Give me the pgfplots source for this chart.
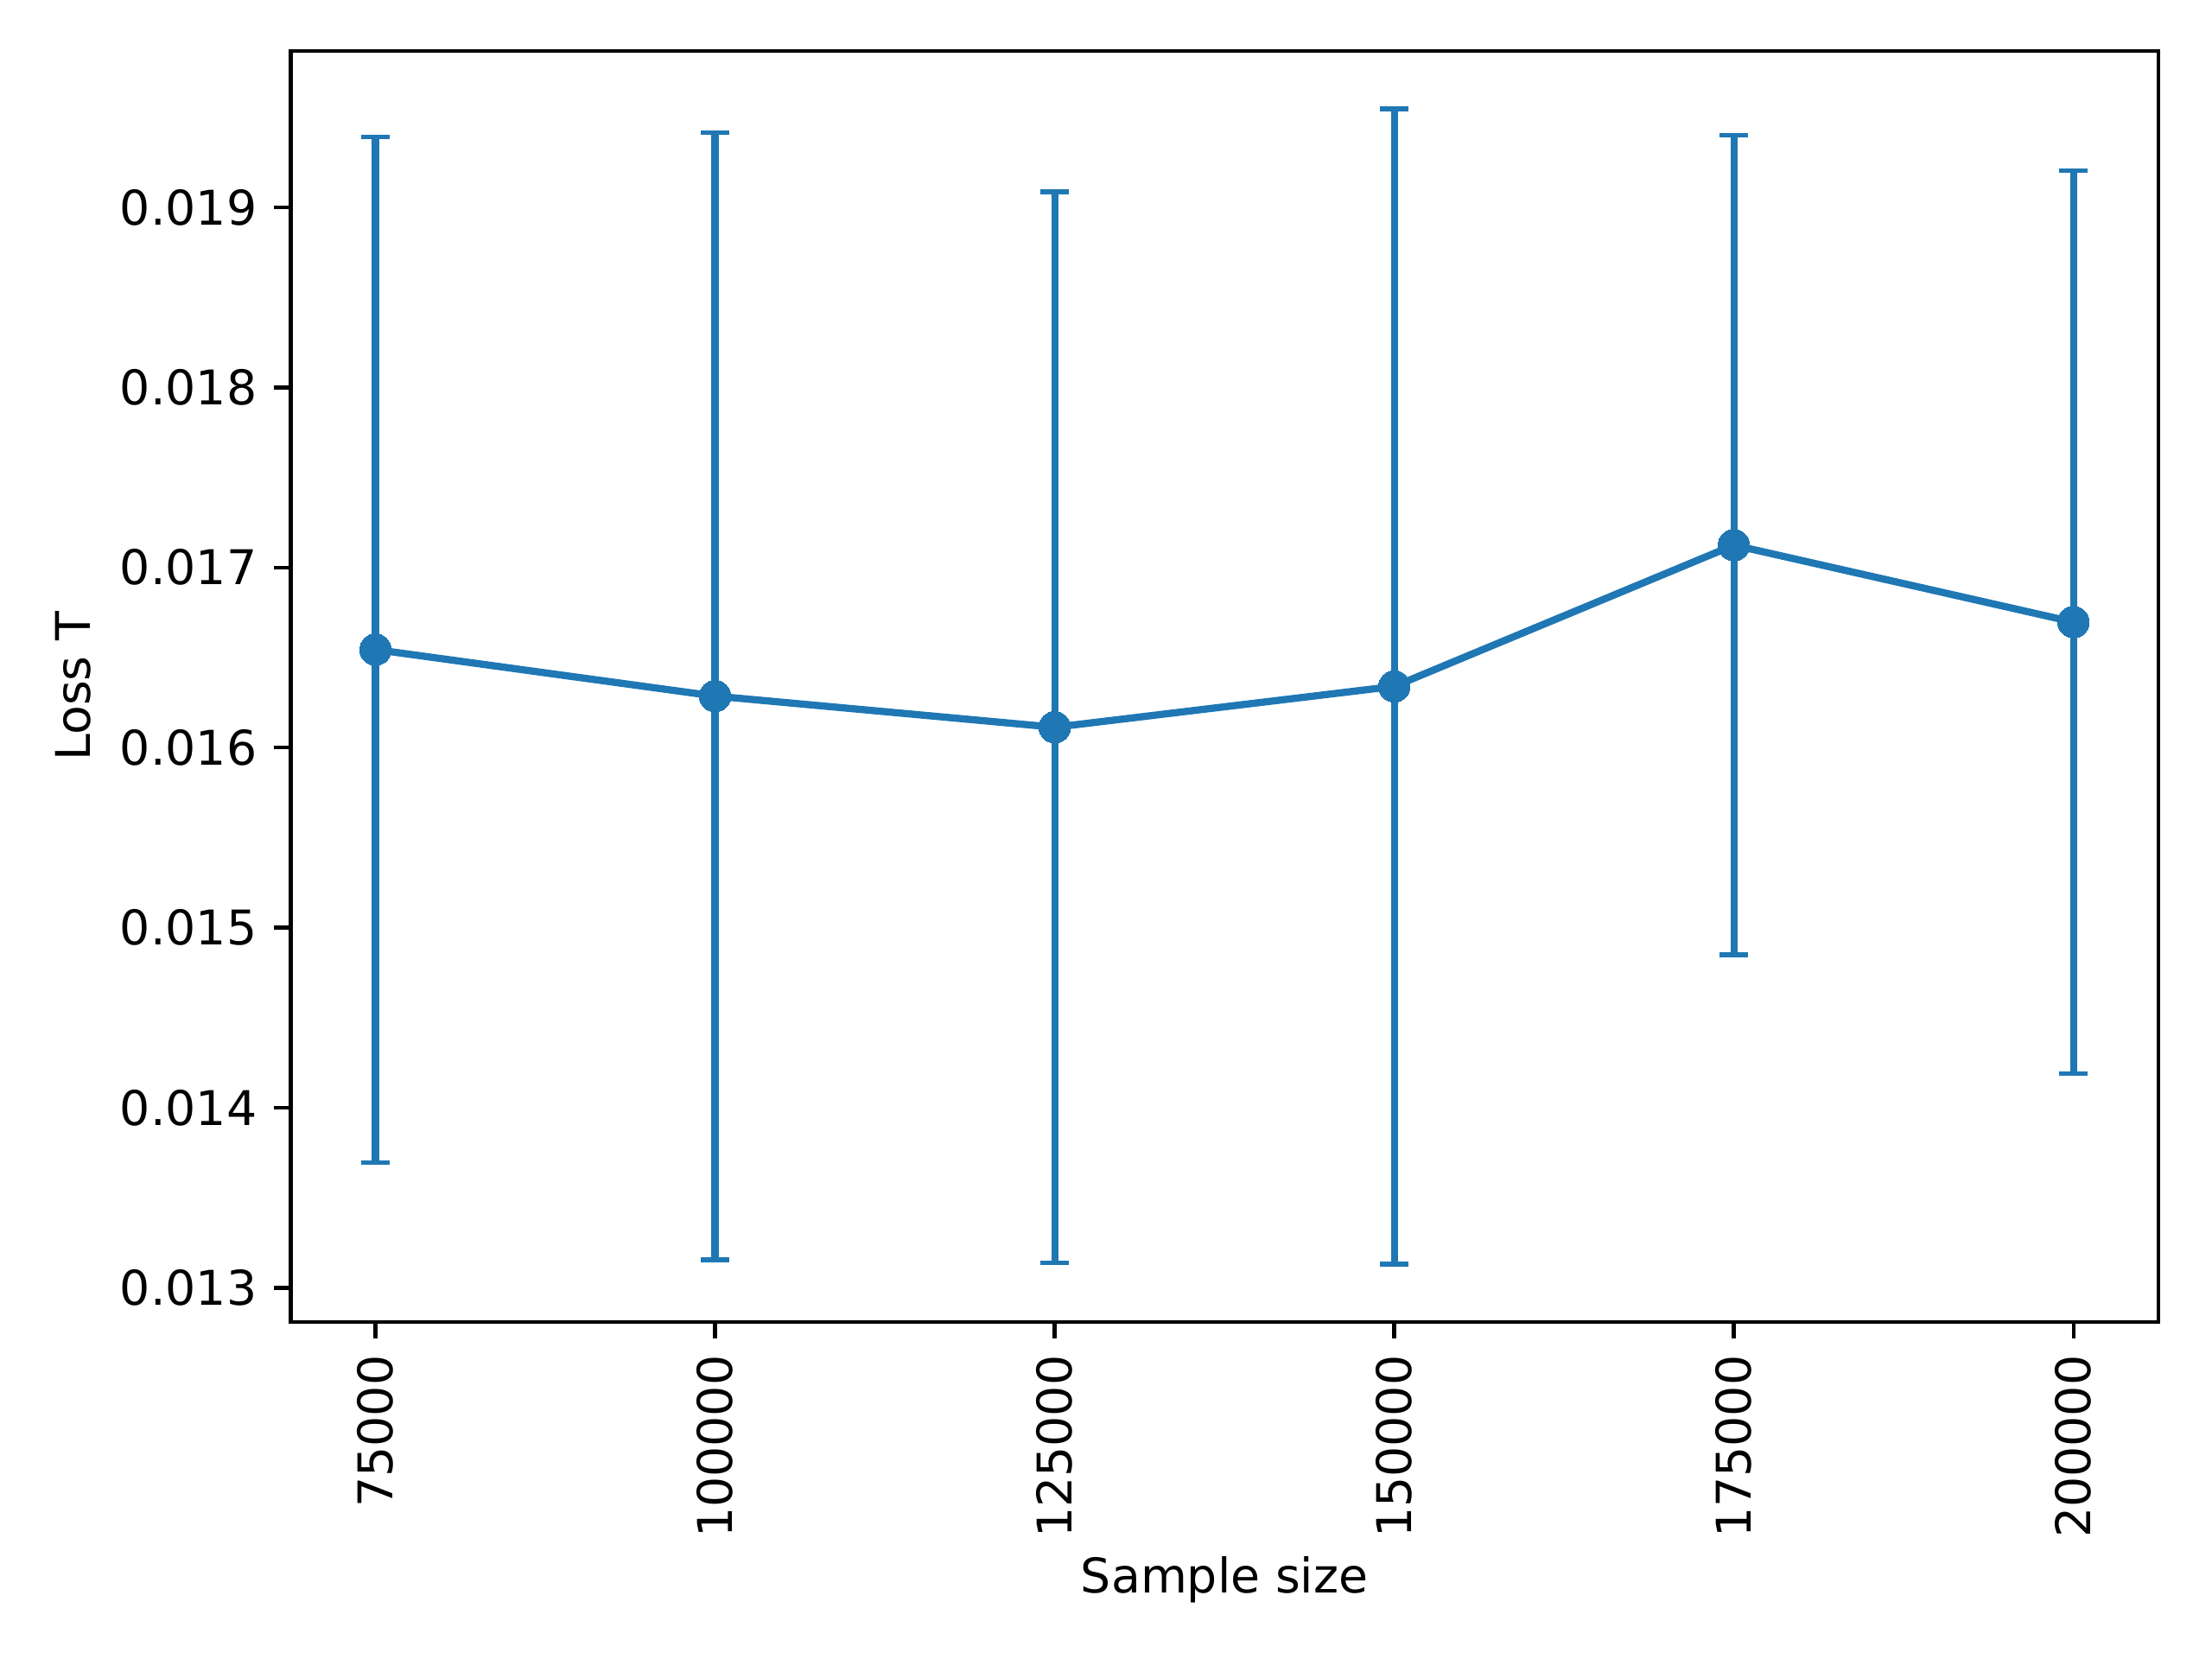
\documentclass[border=0pt]{standalone}
\usepackage{pgfplots}
\pgfplotsset{compat=1.18}
\usepackage{fontspec}
\setmainfont{DejaVu Sans}
\definecolor{tabblue}{HTML}{1F77B4}
\begin{document}
\fontsize{10pt}{12pt}\selectfont
\begin{tikzpicture}
\begin{axis}[
  scale only axis,
  width=13.726cm, height=9.341cm,
  xmin=68750, xmax=206250,
  ymin=0.012812, ymax=0.019869,
  axis line style={line width=0.8pt},
  tick style={black, line width=0.8pt},
  tick align=outside,
  major tick length=3.5pt,
  xtick pos=lower, ytick pos=left,
  xtick={75000,100000,125000,150000,175000,200000},
  ytick={0.013,0.014,0.015,0.016,0.017,0.018,0.019},
  scaled x ticks=false, scaled y ticks=false,
  /pgf/number format/assume math mode=true,
  xticklabel style={rotate=90, anchor=east, /pgf/number format/.cd, fixed, 1000 sep={}},
  yticklabel style={/pgf/number format/.cd, fixed, fixed zerofill, precision=3},
  every axis y label/.style={at={(axis description cs:-0.1163,0.5)}, rotate=90, anchor=center},
  every axis x label/.style={at={(axis description cs:0.5,-0.2031)}, anchor=center},
  xlabel={Sample size},
  ylabel={Loss T},
]
\addplot[
  color=tabblue, line width=1.5pt,
  mark=*, mark size=3.3pt, mark options={fill=tabblue, draw=tabblue, line width=0pt},
  error bars/.cd, y dir=both, y explicit,
  error bar style={line width=1.5pt, tabblue},
  error mark options={tabblue, mark size=3pt, line width=1pt, rotate=90},
] table[x=x, y=y, y error=e] {
x y e
75000 0.016544 0.002847
100000 0.016286 0.003129
125000 0.016113 0.002973
150000 0.016340 0.003207
175000 0.017124 0.002275
200000 0.016697 0.002506
};
\end{axis}
\path ([xshift=-2.136cm,yshift=-2.472cm]current axis.south west) rectangle ([xshift=0.394cm,yshift=0.373cm]current axis.north east);
\end{tikzpicture}
\end{document}
